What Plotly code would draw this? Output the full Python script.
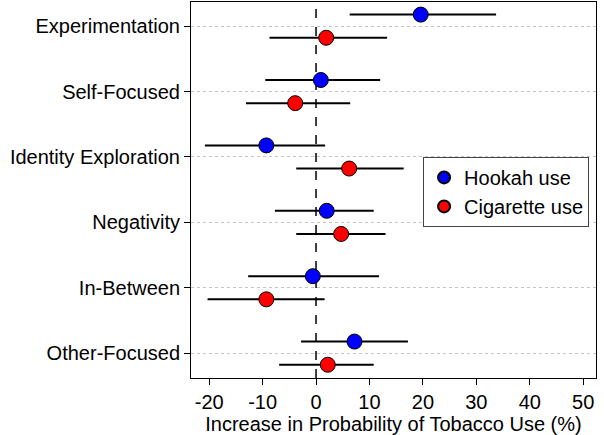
import plotly.graph_objects as go

categories = ["Experimentation", "Self-Focused", "Identity Exploration",
              "Negativity", "In-Between", "Other-Focused"]
cat_pos = [6, 5, 4, 3, 2, 1]

hookah_est = [19.6, 0.9, -9.3, 2.0, -0.6, 7.2]
hookah_lo = [6.3, -9.5, -20.8, -7.7, -12.7, -2.8]
hookah_hi = [33.7, 12.0, 1.7, 10.8, 11.8, 17.2]

cig_est = [1.9, -3.9, 6.2, 4.7, -9.3, 2.2]
cig_lo = [-8.7, -13.1, -3.7, -3.7, -20.3, -6.9]
cig_hi = [13.3, 6.4, 16.4, 13.0, 1.6, 10.8]

x_ticks = [-20, -10, 0, 10, 20, 30, 40, 50]
offset = 0.177

FONT = "Liberation Sans, Arial, Helvetica, sans-serif"

fig = go.Figure()

def add_series(est, lo, hi, color, name, dy):
    ys = [p + dy for p in cat_pos]
    fig.add_trace(go.Scatter(
        x=est, y=ys, mode="markers", name=name,
        marker=dict(size=15, color=color, line=dict(color="black", width=1)),
        error_x=dict(type="data", symmetric=False,
                     array=[h - e for h, e in zip(hi, est)],
                     arrayminus=[e - l for e, l in zip(est, lo)],
                     color="black", thickness=2, width=0),
    ))

add_series(hookah_est, hookah_lo, hookah_hi, "#0000ff", "Hookah use", offset)
add_series(cig_est, cig_lo, cig_hi, "#ff0000", "Cigarette use", -offset)

fig.add_shape(type="line", xref="x", yref="paper", x0=0, x1=0, y0=0, y1=1,
              line=dict(color="black", width=1.5, dash="dash"), layer="below")

fig.update_layout(
    width=604, height=435,
    margin=dict(l=191, r=8, t=2, b=57),
    paper_bgcolor="white", plot_bgcolor="white",
    font=dict(family=FONT, size=20, color="black"),
    showlegend=True,
    legend=dict(x=0.573, y=0.588, xanchor="left", yanchor="top",
                bgcolor="white", bordercolor="#444", borderwidth=1,
                font=dict(size=20), itemsizing="constant",
                tracegroupgap=0),
    xaxis=dict(range=[-23.4, 52.4], tickvals=x_ticks,
               ticktext=[str(v) for v in x_ticks],
               showgrid=False, zeroline=False,
               showline=True, linecolor="black", linewidth=1, mirror=True,
               ticks="outside", ticklen=6, tickcolor="black",
               title=dict(text="Increase in Probability of Tobacco Use (%)",
                          font=dict(size=20), standoff=0),
               tickfont=dict(size=20), automargin=False),
    yaxis=dict(range=[0.62, 6.37], tickvals=cat_pos, ticktext=categories,
               showgrid=True, gridcolor="#c4c4c4", griddash="3px,3px", gridwidth=1,
               zeroline=False,
               showline=True, linecolor="black", linewidth=1, mirror=True,
               ticks="outside", ticklen=6, tickcolor="black",
               tickfont=dict(size=20), automargin=False),
)

fig.write_html("out.html", config={"displayModeBar": False},
               post_script="document.body.style.margin='0';document.body.style.padding='0';")
